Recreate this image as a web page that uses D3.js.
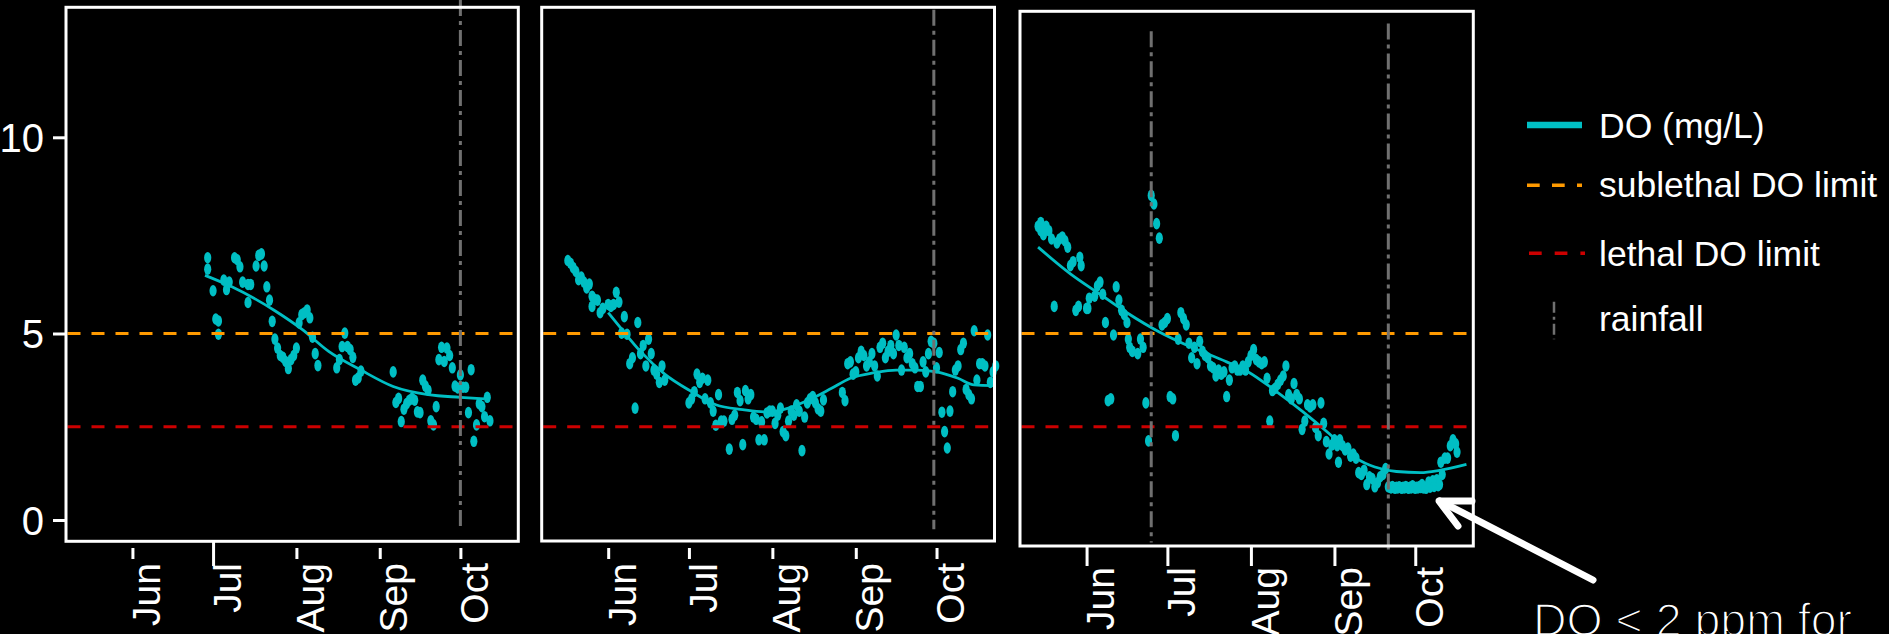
<!DOCTYPE html>
<html>
<head>
<meta charset="utf-8">
<script src="https://cdn.jsdelivr.net/npm/d3@7"></script>
<style>
  html, body { margin: 0; padding: 0; background: #000; }
  svg { display: block; }
  text { font-family: "Helvetica Neue", Helvetica, "Liberation Sans", Arial, sans-serif; fill: #fff; }
</style>
</head>
<body>
<svg id="chart" width="1889" height="634"></svg>
<script>
// ---- Data -------------------------------------------------------------
// Dissolved-oxygen readings per site ("MM-DD" or "MM-DD HH"), mg/L
const site1Dates = ["06-29","06-29","07-01","07-02","07-03","07-03","07-05","07-06","07-07","07-09","07-10","07-11","07-12","07-14","07-15","07-14","07-17","07-18","07-19","07-20","07-21","07-22","07-23","07-24","07-25","07-26","07-27","07-28","07-29","07-30","07-31","08-01","08-02","08-03","08-04","08-05","08-06","08-07","08-08","08-09","08-16","08-17","08-18","08-19","08-20","08-21","08-22","08-23","08-24","08-25","09-06","09-07","09-08","09-09","09-10","09-11","09-12","09-13","09-14","09-15","09-16","09-17","09-18","09-19","09-20","09-21","09-22","09-23","09-24","09-25","09-26","09-27","09-28","09-29","09-30","10-01","10-02","10-03","10-04","10-05","10-06","10-07","10-08","10-09","10-10","10-11","10-12"];
const site1DO = [6.93,6.64,6.09,5.37,5.32,4.98,6.36,6.12,6.31,6.93,6.88,6.70,6.31,6.25,6.25,5.79,6.72,6.99,7.03,6.72,6.19,5.85,5.31,4.85,4.61,4.41,4.36,4.25,4.06,4.30,4.41,4.61,5.27,5.48,5.53,5.60,5.40,4.90,4.46,4.14,4.08,4.30,4.65,5.01,4.65,4.57,4.36,3.75,3.81,3.99,3.97,3.15,3.26,2.64,2.97,3.12,3.21,3.26,3.21,2.90,2.88,3.75,3.59,3.48,2.66,2.55,3.04,4.30,4.63,4.25,4.61,4.41,4.08,3.59,3.54,3.89,3.56,3.56,2.88,4.03,2.11,2.55,3.12,3.04,2.77,3.29,2.66];

const site2Dates = ["05-17","05-18","05-19","05-20","05-21","05-22","05-23","05-24","05-25","05-26","05-26","05-27","05-28","05-29","05-30","06-01","06-02","06-03","06-04","06-05","06-06","06-07","06-08","06-09","06-10","06-11","06-12","06-13","06-14","06-15","06-16","06-17","06-18","06-19","06-20","06-21","06-22","07-01","07-02","07-03","07-04","07-05","07-06","07-07","07-08","07-09","07-10","07-11","07-12","07-13","07-14","07-16","07-17","07-18","07-19","07-20","07-21","07-22","07-23","07-24","07-25","07-26","07-27","07-28","07-29","07-30","07-31","08-01","08-02","08-03","08-04","08-05","08-06","08-07","08-08","08-09","08-10","08-11","08-12","08-13","08-14","08-15","08-16","08-17","08-18","08-19","08-20","08-27","08-28","08-29","08-30","08-31","09-01","09-02","09-03","09-04","09-05","09-06","09-07","09-08","09-09","09-10","09-11","09-12","09-13","09-14","09-15","09-16","09-17","09-18","09-19","09-20","09-21","09-22","09-23","09-24","09-25","09-26","09-27","09-28","09-29","09-30","10-01","10-02","10-03","10-04","10-05","10-06","10-07","10-08","10-09","10-10","10-11","10-12","10-13","10-14","10-15","10-16","10-17","10-18","10-19","10-20","10-21","10-22","10-23"];
const site2DO = [6.86,6.79,6.68,6.58,6.37,6.44,6.31,6.16,6.26,5.69,5.95,5.87,5.85,5.53,5.64,5.74,5.69,5.74,6.05,5.80,5.01,5.43,4.98,4.19,4.35,3.00,5.28,4.46,4.68,4.13,4.85,4.46,4.02,3.91,3.69,4.13,3.75,3.14,3.25,3.44,3.91,3.69,3.80,3.25,3.75,3.14,2.92,2.54,3.36,2.65,2.65,1.90,2.70,2.81,3.42,3.20,2.02,3.47,3.25,3.36,2.76,2.70,2.15,2.63,2.15,2.87,2.92,2.92,2.59,2.81,3.00,2.37,2.26,2.65,2.92,2.81,3.09,2.92,1.86,2.76,3.14,3.25,3.31,3.14,2.98,2.92,3.22,3.42,3.20,4.19,4.24,3.91,3.97,4.35,4.52,4.41,4.13,4.24,4.46,4.13,3.86,4.63,4.74,4.35,4.52,4.68,4.46,4.96,4.68,4.02,4.63,4.35,4.46,4.19,4.08,3.58,3.58,4.24,3.97,4.46,4.79,4.74,4.08,4.49,2.89,2.37,1.93,2.92,3.44,4.02,4.13,4.57,4.74,3.50,3.36,3.25,5.07,3.75,4.19,4.19,4.13,4.96,3.69,3.97,4.13];

const site3Dates = ["05-14","05-15","05-15","05-16","05-17","05-18","05-19","05-20","05-21","05-22","05-23","05-24","05-25","05-26","05-27","05-28","05-29","05-29 12","05-30","06-01","06-01 12","06-02","06-04","06-05","06-06","06-07","06-08","06-09","06-10","06-11","06-12","06-13","06-14","06-15","06-16","06-16 12","06-17","06-18","06-20","06-21","06-22","06-23","06-24","06-25","06-26","06-27","06-28","06-29","06-30","07-01","07-02","07-03","07-04","07-05","07-06","07-07","07-08","07-09","07-10","07-11","07-12","07-13","07-14","07-15","07-16","07-17","07-18","07-19","07-20","07-21","07-22","07-23","07-24","07-25","07-26","07-27","07-28","07-29","07-30","07-31","08-01","08-02","08-03","08-04","08-05","08-06","08-07","08-08","08-09","08-10","08-11","08-12","08-13","08-14","08-15","08-16","08-17","08-18","08-19","08-20","08-21","08-22","08-23","08-24","08-25","08-26","08-27","08-28","08-29","08-30","08-31","09-01","09-02","09-02 12","09-03","09-04","09-05","09-06","09-07","09-08","09-09","09-10","09-11","09-12","09-13","09-14","09-15","09-16","09-17","09-18","09-19","09-20","09-21","09-21 12","09-22","09-22 12","09-23","09-23 12","09-24","09-24 12","09-25","09-25 12","09-26","09-26 12","09-27","09-27 12","09-28","09-28 12","09-29","09-29 12","09-30","09-30 12","10-01","10-01 12","10-02","10-02 12","10-03","10-03 12","10-04","10-04 12","10-05","10-05 12","10-06","10-06 12","10-07","10-07 12","10-08","10-08 12","10-09","10-09 12","10-10","10-10 12","10-11","10-12","10-13","10-14","10-15","10-16","10-16 12"];
const site3DO = [7.73,7.83,7.62,7.52,7.73,7.62,7.41,5.69,7.31,7.41,7.46,7.36,7.20,6.73,6.83,5.59,5.69,6.94,6.73,5.64,5.64,5.90,5.95,6.21,6.31,6.00,5.28,3.20,3.25,4.96,6.19,5.85,5.59,5.48,5.28,4.85,4.63,4.52,4.46,4.85,4.63,3.14,2.12,8.52,8.30,7.80,7.43,5.22,5.28,5.38,3.31,3.25,2.26,4.85,5.53,5.38,5.22,4.74,4.35,4.63,4.19,4.79,4.52,4.41,4.35,4.13,4.08,3.86,4.02,3.91,3.97,3.31,3.75,4.08,4.13,4.02,4.02,4.13,4.02,4.24,4.41,4.57,4.30,4.24,4.19,4.24,3.80,2.65,3.47,3.53,3.64,3.75,3.86,4.13,3.36,3.25,3.66,3.36,3.25,2.43,2.65,3.09,3.03,3.09,2.48,2.26,3.14,2.59,2.10,1.77,2.01,2.15,1.99,1.55,2.15,1.99,1.88,1.93,1.71,1.77,1.66,1.27,1.22,1.33,0.95,1.16,1.11,0.89,1.00,1.16,1.22,1.38,0.89,0.88,0.86,0.90,0.87,0.85,0.88,0.86,0.89,0.87,0.85,0.88,0.86,0.90,0.87,0.85,0.88,0.86,0.92,0.87,0.85,0.88,0.86,0.90,0.87,0.95,0.86,0.88,0.85,0.90,1.02,0.88,0.93,1.05,0.90,0.98,1.08,0.92,0.95,1.55,1.22,1.66,1.66,1.99,2.15,2.04,1.82];

// Smoothed DO trend per site
const trend1Dates = ["06-28","07-08","07-24","08-03","08-13","08-25","09-06","09-19","10-01","10-10"];
const trend1DO    = [6.48, 6.19, 5.58, 5.11, 4.52, 4.02, 3.58, 3.36, 3.29, 3.25];
const trend2Dates = ["06-01","06-06","06-13","06-22","07-02","07-11","07-21","07-29","08-05","08-14","08-23","08-30","09-08","09-16","09-24","10-01","10-09","10-15","10-22"];
const trend2DO    = [5.53, 5.11, 4.52, 3.91, 3.44, 3.09, 2.96, 2.90, 2.96, 3.20, 3.53, 3.80, 3.95, 4.02, 4.02, 3.97, 3.80, 3.62, 3.60];
const trend3Dates = ["05-14","05-26","06-06","06-16","06-28","07-10","07-23","07-31","08-10","08-20","08-30","09-09","09-16","09-24","10-03","10-10","10-20"];
const trend3DO    = [7.20, 6.52, 6.00, 5.53, 5.04, 4.63, 4.24, 3.97, 3.47, 2.92, 2.32, 1.66, 1.42, 1.30, 1.27, 1.33, 1.49];

// Rainfall events: date, and the span of the marker line in DO units
const rain1Dates = ["10-01"];           const rain1Span = [[-0.2, 13.5]];
const rain2Dates = ["09-30"];           const rain2Span = [[-0.25, 13.25]];
const rain3Dates = ["06-25", "09-21"];  const rain3Span = [[-0.6, 12.7], [-0.8, 12.9]];

// Thresholds (mg/L)
const sublethalLimit = 5;
const lethalLimit = 2.5;

// Axis ticks and labels
const monthTicks = ["06-01", "07-01", "08-01", "09-01", "10-01"];
const monthLabels = ["Jun", "Jul", "Aug", "Sep", "Oct"];
const yTicks = [0, 5, 10];
const legendLabels = ["DO (mg/L)", "sublethal DO limit", "lethal DO limit", "rainfall"];
const noteText = "DO < 2 ppm for";

// ---- Helpers ----------------------------------------------------------
const YEAR = 2019;
function parseDay(s) {
  const [md, h] = s.split(" ");
  const [m, d] = md.split("-").map(Number);
  return new Date(YEAR, m - 1, d, h ? +h : 0);
}

const COL_DO = "#00BFC4";
const COL_SUB = "#FF9A00";
const COL_LETHAL = "#CC0000";
const COL_RAIN = "#707070";
const RAIN_DASH = "16,5,4,5";

const svg = d3.select("#chart");
svg.append("rect").attr("width", 1889).attr("height", 634).attr("fill", "#000");

// Shared y scale (axis calibrated at 0, 5 and 10)
const y = d3.scaleLinear().domain([0, 5, 10]).range([520, 333.5, 137.3]);

// Shared date window
const dateDomain = [new Date(YEAR, 4, 7, 7), new Date(YEAR, 9, 22, 13)];

const panels = [
  { dates: site1Dates, values: site1DO, tDates: trend1Dates, tValues: trend1DO, rDates: rain1Dates, rSpan: rain1Span,
    left: 66, right: 518.3, top: 7.3, bottom: 541.3, tickTop: 548, tickLen: 11, labelTop: 563, longTick: "Jul" },
  { dates: site2Dates, values: site2DO, tDates: trend2Dates, tValues: trend2DO, rDates: rain2Dates, rSpan: rain2Span,
    left: 541.7, right: 994.5, top: 7.3, bottom: 541, tickTop: 548, tickLen: 11, labelTop: 563, longTick: null },
  { dates: site3Dates, values: site3DO, tDates: trend3Dates, tValues: trend3DO, rDates: rain3Dates, rSpan: rain3Span,
    left: 1020, right: 1473.3, top: 11.3, bottom: 546, tickTop: 546, tickLen: 20, labelTop: 567, longTick: null }
];

panels.forEach((p) => {
  const x = d3.scaleTime().domain(dateDomain).range([p.left, p.right]);
  const g = svg.append("g");

  // observations
  const pts = p.dates.map((d, i) => ({ t: parseDay(d), v: p.values[i] }));
  g.append("g").selectAll("ellipse").data(pts).join("ellipse")
    .attr("cx", d => x(d.t)).attr("cy", d => y(d.v))
    .attr("rx", 3.6).attr("ry", 5.8).attr("fill", COL_DO);

  // smoothed trend
  const trend = p.tDates.map((d, i) => ({ t: parseDay(d), v: p.tValues[i] }));
  g.append("path").datum(trend)
    .attr("d", d3.line().x(d => x(d.t)).y(d => y(d.v)).curve(d3.curveMonotoneX))
    .attr("fill", "none").attr("stroke", COL_DO).attr("stroke-width", 2.8);

  // threshold lines
  [[sublethalLimit, COL_SUB], [lethalLimit, COL_LETHAL]].forEach(([v, c]) => {
    g.append("line").attr("x1", p.left + 1.5).attr("x2", p.right - 1.5)
      .attr("y1", y(v)).attr("y2", y(v))
      .attr("stroke", c).attr("stroke-width", 3).attr("stroke-dasharray", "13,11");
  });

  // rainfall markers
  p.rDates.forEach((d, i) => {
    const xr = x(parseDay(d));
    g.append("line").attr("x1", xr).attr("x2", xr)
      .attr("y1", y(p.rSpan[i][1])).attr("y2", y(p.rSpan[i][0]))
      .attr("stroke", COL_RAIN).attr("stroke-width", 3).attr("stroke-dasharray", RAIN_DASH);
  });

  // panel border
  g.append("rect").attr("x", p.left).attr("y", p.top)
    .attr("width", p.right - p.left).attr("height", p.bottom - p.top)
    .attr("fill", "none").attr("stroke", "#fff").attr("stroke-width", 3);

  // month axis
  const ax = d3.axisBottom(x)
    .tickValues(monthTicks.map(parseDay))
    .tickFormat((d, i) => monthLabels[i])
    .tickSize(p.tickLen).tickPadding(0);
  const gx = svg.append("g").attr("transform", `translate(0,${p.tickTop})`).call(ax);
  gx.select(".domain").remove();
  gx.selectAll(".tick line").attr("stroke", "#fff").attr("stroke-width", 3)
    .filter((d, i) => monthLabels[i] === p.longTick)
    .attr("y1", -7).attr("y2", p.tickLen + 7);
  gx.selectAll(".tick text")
    .attr("y", null).attr("dy", null)
    .attr("transform", `translate(-1,${p.labelTop - p.tickTop}) rotate(-90)`)
    .attr("text-anchor", "end").attr("dy", "0.72em")
    .attr("fill", "#fff").style("font-size", "39px");
});

// y axis on the first panel only
const ay = d3.axisLeft(y).tickValues(yTicks).tickFormat(d3.format("d")).tickSize(13).tickPadding(9);
const gy = svg.append("g").attr("transform", `translate(${panels[0].left},0)`).call(ay);
gy.select(".domain").remove();
gy.selectAll(".tick line").attr("stroke", "#fff").attr("stroke-width", 3);
gy.selectAll(".tick text").attr("fill", "#fff").style("font-size", "40px").attr("dy", "0.36em");

// legend
const lg = svg.append("g");
const legendBase = [138.3, 196.7, 266, 330.7];
lg.append("line").attr("x1", 1527).attr("x2", 1582).attr("y1", 125).attr("y2", 125)
  .attr("stroke", COL_DO).attr("stroke-width", 6.5);
lg.append("line").attr("x1", 1527).attr("x2", 1582).attr("y1", 185.3).attr("y2", 185.3)
  .attr("stroke", COL_SUB).attr("stroke-width", 3.5).attr("stroke-dasharray", "12.7,12.3");
lg.append("line").attr("x1", 1529).attr("x2", 1585).attr("y1", 253.3).attr("y2", 253.3)
  .attr("stroke", COL_LETHAL).attr("stroke-width", 3.5).attr("stroke-dasharray", "12.7,13");
lg.append("line").attr("x1", 1554).attr("x2", 1554).attr("y1", 301.7).attr("y2", 339.3)
  .attr("stroke", COL_RAIN).attr("stroke-width", 2.5).attr("stroke-dasharray", "11,4,3,4");
lg.selectAll("text").data(legendLabels).join("text")
  .attr("x", 1599).attr("y", (d, i) => legendBase[i])
  .style("font-size", "35.5px").text(d => d);

// annotation arrow and note
const ann = svg.append("g").attr("stroke", "#fff").attr("stroke-width", 7)
  .attr("stroke-linecap", "round").attr("stroke-linejoin", "round").attr("fill", "none");
ann.append("line").attr("x1", 1593).attr("y1", 580).attr("x2", 1440).attr("y2", 501);
ann.append("polyline").attr("points", "1472,501 1439,501 1458,526");
// thin-weight note: a black outline drawn over the fill slims the glyph strokes
svg.append("text").attr("x", 1533).attr("y", 636)
  .attr("textLength", 319).attr("lengthAdjust", "spacingAndGlyphs")
  .attr("stroke", "#000").attr("stroke-width", 1.6)
  .style("font-size", "47px").text(noteText);
</script>
</body>
</html>
